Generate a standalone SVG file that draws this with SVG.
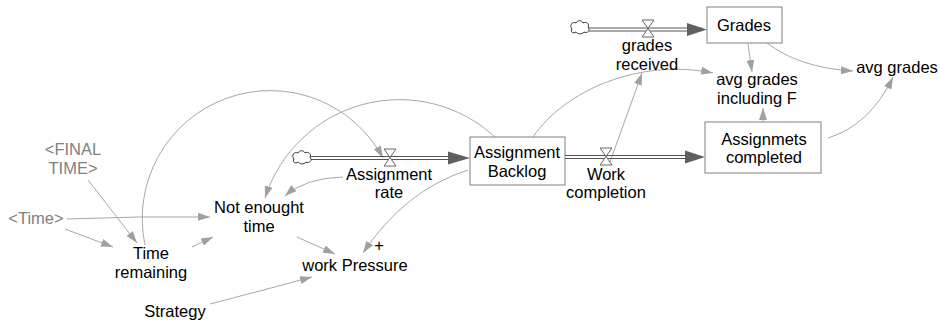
<svg xmlns="http://www.w3.org/2000/svg" xmlns:xlink="http://www.w3.org/1999/xlink" width="940" height="323" viewBox="0 0 940 323">
<style>
text{font-family:"Liberation Sans",Arial,sans-serif;font-size:16.5px;fill:#000;text-anchor:middle}
text.sh{fill:#808080}
.box{fill:#fff;stroke:#808080;stroke-width:1}
.lnk{fill:none;stroke:#a8a8a8;stroke-width:1;marker-end:url(#ah)}
.pipe{stroke:#555;stroke-width:1}
.phead{fill:#606060}
.valve{fill:#fff;stroke:#666;stroke-width:1}
.cloud{fill:#fff;stroke:#333;stroke-width:1}
</style>
<defs>
<marker id="ah" viewBox="0 0 12 8" refX="12" refY="4" markerWidth="12" markerHeight="8" orient="auto" markerUnits="userSpaceOnUse">
<path d="M0,0 L12,4 L0,8 z" fill="#a0a0a0"/>
</marker>
<path id="cloud" d="M-8,2 C-11,-1 -8,-6 -4,-4 C-3,-7 2,-7 3,-4 C6,-6 10,-3 8,0 C11,3 7,7 4,5 C2,8 -3,7 -4,5 C-7,7 -10,5 -8,2 Z"/>
<path id="valve" d="M-6,-8.5 H6 L-6,8.5 H6 Z"/>
</defs>
<rect width="940" height="323" fill="#fff"/>

<g id="connectors">
<path class="lnk" d="M748,44 L752,72"/>
<path class="lnk" d="M767,43 Q800,68 853,71"/>
<path class="lnk" d="M828,138 Q870,125 893,77"/>
<path class="lnk" d="M763,122 L763,108"/>
<path class="lnk" d="M610,162 L642,73"/>
<path class="lnk" d="M533,137 C565,90 640,58 713,73"/>
<path class="lnk" d="M495,137 A141,141 0 0 0 265,198"/>
<path class="lnk" d="M145,245 A128,128 0 0 1 383,158"/>
<path class="lnk" d="M343,177 Q305,178 285,196"/>
<path class="lnk" d="M468,170 Q405,190 363,253"/>
<path class="lnk" d="M297,237 L335,254"/>
<path class="lnk" d="M210,304 Q260,291 312,277"/>
<path class="lnk" d="M67,219 Q140,216 210,217"/>
<path class="lnk" d="M65,229 L113,247"/>
<path class="lnk" d="M88,180 L137,243"/>
<path class="lnk" d="M192,247 L213,237"/>
</g>

<g id="flow-grades-received">
<use href="#cloud" xlink:href="#cloud" class="cloud" x="580" y="27"/>
<line class="pipe" x1="589" y1="28" x2="690" y2="28"/>
<line class="pipe" x1="589" y1="31" x2="690" y2="31"/>
<polygon class="phead" points="687,23 707,29.5 687,36"/>
<use href="#valve" xlink:href="#valve" class="valve" x="648" y="28.5"/>
<text x="647" y="51">grades</text>
<text x="647" y="70">received</text>
</g>

<g id="stock-grades">
<rect class="box" x="707" y="7" width="75" height="36"/>
<text x="744" y="31">Grades</text>
</g>

<g id="avg-grades-including-f">
<text x="757" y="85">avg grades</text>
<text x="757" y="104">including F</text>
</g>

<g id="avg-grades">
<text x="897" y="73">avg grades</text>
</g>

<g id="stock-assignmets-completed">
<rect class="box" x="705" y="122" width="116" height="51"/>
<text x="764" y="145">Assignmets</text>
<text x="764" y="163">completed</text>
</g>

<g id="flow-assignment-rate">
<use href="#cloud" xlink:href="#cloud" class="cloud" x="302" y="157"/>
<line class="pipe" x1="311" y1="156.5" x2="452" y2="156.5"/>
<line class="pipe" x1="311" y1="159.5" x2="452" y2="159.5"/>
<polygon class="phead" points="448,151.5 470,158 448,164.5"/>
<use href="#valve" xlink:href="#valve" class="valve" x="390" y="157.5"/>
<text x="389" y="180">Assignment</text>
<text x="389" y="198">rate</text>
</g>

<g id="stock-assignment-backlog">
<rect class="box" x="470" y="137" width="95" height="48"/>
<text x="517" y="158">Assignment</text>
<text x="517" y="177">Backlog</text>
</g>

<g id="flow-work-completion">
<line class="pipe" x1="565" y1="155.5" x2="688" y2="155.5"/>
<line class="pipe" x1="565" y1="158.5" x2="688" y2="158.5"/>
<polygon class="phead" points="685,150.5 705,157 685,163.5"/>
<use href="#valve" xlink:href="#valve" class="valve" x="606" y="156.5"/>
<text x="606" y="180">Work</text>
<text x="606" y="198">completion</text>
</g>

<g id="not-enought-time">
<text x="259" y="213">Not enought</text>
<text x="259" y="232">time</text>
</g>

<g id="work-pressure">
<text x="379" y="251">+</text>
<text x="355" y="271">work Pressure</text>
</g>

<g id="strategy">
<text x="175" y="317">Strategy</text>
</g>

<g id="time-remaining">
<text x="151" y="259">Time</text>
<text x="151" y="278">remaining</text>
</g>

<g id="time-shadow">
<text class="sh" x="36" y="224">&lt;Time&gt;</text>
</g>

<g id="final-time-shadow">
<text class="sh" x="73" y="155">&lt;FINAL</text>
<text class="sh" x="73" y="174">TIME&gt;</text>
</g>
</svg>
